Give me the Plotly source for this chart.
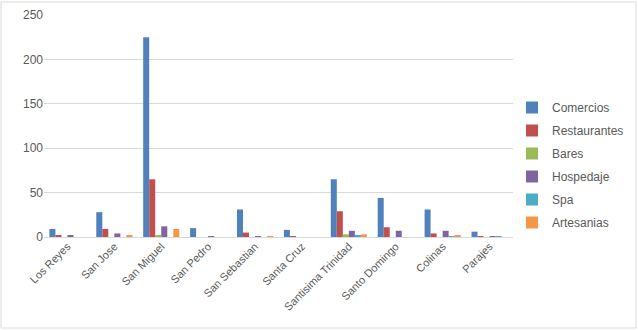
import plotly.graph_objects as go

categories = ["Los Reyes", "San Jose", "San Miguel", "San Pedro", "San Sebastian",
              "Santa Cruz", "Santisima Trinidad", "Santo Domingo", "Colinas", "Parajes"]
comercios = [9, 28, 225, 10, 31, 8, 65, 44, 31, 6]
restaurantes = [2, 9, 65, 0, 5, 1, 29, 11, 4, 1]
bares = [0, 0, 2, 0, 0, 0, 3, 0, 0, 0]
hospedaje = [2, 4, 12, 1, 1, 0, 7, 7, 7, 1]
spa = [0, 0, 0, 0, 0, 0, 2, 0, 1, 1]
artesanias = [0, 2, 9, 0, 1, 0, 3, 0, 2, 0]

series = [
    ("Comercios", comercios, "#4F81BD"),
    ("Restaurantes", restaurantes, "#C0504D"),
    ("Bares", bares, "#9BBB59"),
    ("Hospedaje", hospedaje, "#8064A2"),
    ("Spa", spa, "#4BACC6"),
    ("Artesanias", artesanias, "#F79646"),
]

fig = go.Figure()
for name, vals, color in series:
    fig.add_trace(go.Bar(x=categories, y=vals, name=name, legendgroup=name,
                         marker=dict(color=color, line=dict(width=0))))

L, R, T, B = 44, 125, 15, 93
W, H = 638, 330
pw, ph = W - L - R, H - T - B

fig.update_layout(
    width=W, height=H,
    margin=dict(l=L, r=R, t=T, b=B, autoexpand=False),
    paper_bgcolor="white", plot_bgcolor="white",
    barmode="group", bargap=0.23, bargroupgap=0,
    font=dict(family="Liberation Sans, Arial, sans-serif", size=11, color="#595959"),
    xaxis=dict(tickangle=-45, showgrid=False, showline=False, ticks="", automargin=False,
               tickfont=dict(size=11, color="#595959")),
    yaxis=dict(range=[0, 250], dtick=50, showgrid=True, gridcolor="#D9D9D9",
               gridwidth=1, zeroline=True, zerolinecolor="#D9D9D9", zerolinewidth=1,
               showline=False, ticks="", automargin=False,
               tickfont=dict(size=12, color="#595959")),
    legend=dict(x=(512 - L) / pw, y=(237 - 165) / ph, xanchor="left", yanchor="middle",
                font=dict(size=12, color="#595959"), tracegroupgap=4,
                traceorder="grouped", itemwidth=30,
                bgcolor="rgba(0,0,0,0)"),
    shapes=[dict(type="rect", xref="paper", yref="paper",
                 x0=(1 - L) / pw, x1=(636 - L) / pw,
                 y0=(237 - 328) / ph, y1=(237 - 2) / ph,
                 line=dict(color="#D9D9D9", width=1), layer="below")],
)

fig.write_html("out.html", config={"displayModeBar": False},
               post_script="document.body.style.margin='0';document.body.style.overflow='hidden';")
